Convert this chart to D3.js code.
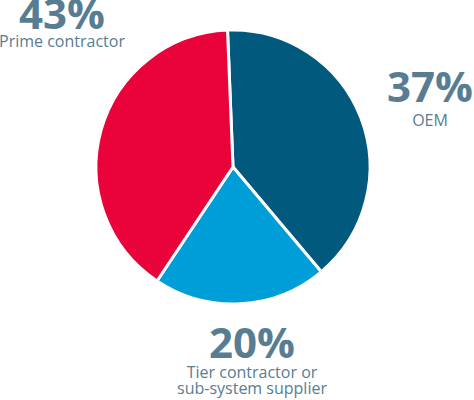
<!DOCTYPE html>
<html>
<head>
<meta charset="utf-8">
<style>
  body { margin: 0; background: #fff; }
  svg { display: block; }
  .pct { font-family: "Open Sans", sans-serif; font-weight: 700; fill: #587d93; }
  .lbl { font-family: "Open Sans", sans-serif; font-weight: 400; fill: #587d93; }
</style>
</head>
<body>
<div class="pie"></div>
<script src="https://d3js.org/d3.v7.min.js"></script>
<script>
// segments, clockwise from the top
const categories = ["OEM", "Tier contractor or\nsub-system supplier", "Prime contractor"];
const percentLabels = ["37%", "20%", "43%"];
// slice sizes as drawn in the picture
const shares = [39.5, 20.5, 40];
const colors = ["#015a7d", "#009ed9", "#e9033a"];

const width = 474;
const height = 400;
const cx = 233, cy = 167, radius = 137;

const svg = d3.select(".pie")
  .append("svg")
    .attr("width", width)
    .attr("height", height);

const pie = d3.pie()
  .sort(null)
  .startAngle(-2.3 * Math.PI / 180)
  .endAngle(2 * Math.PI - 2.3 * Math.PI / 180)
  .value(d => d);

const arc = d3.arc().innerRadius(0).outerRadius(radius);

svg.append("g")
    .attr("transform", `translate(${cx},${cy})`)
  .selectAll("path")
  .data(pie(shares))
  .join("path")
    .attr("d", arc)
    .attr("fill", (d, i) => colors[i])
    .attr("stroke", "white")
    .attr("stroke-width", 3)
    .attr("stroke-linejoin", "round");

// label anchors: [x, baseline of percent, baseline of first text line]
const labelPos = [[430, 102, 126], [252, 358, 378], [62, 29, 47]];

const labels = svg.append("g")
  .selectAll("g")
  .data(categories)
  .join("g");

labels.append("text")
    .attr("class", "pct")
    .attr("x", (d, i) => labelPos[i][0])
    .attr("y", (d, i) => labelPos[i][1])
    .attr("text-anchor", "middle")
    .attr("font-size", 42)
    .text((d, i) => percentLabels[i]);

labels.append("text")
    .attr("class", "lbl")
    .attr("text-anchor", "middle")
    .attr("font-size", 16)
  .selectAll("tspan")
  .data((d, i) => d.split("\n").map(t => ({t, i})))
  .join("tspan")
    .attr("x", d => labelPos[d.i][0])
    .attr("y", (d, j) => labelPos[d.i][2] + j * 16)
    .text(d => d.t);
</script>
</body>
</html>
